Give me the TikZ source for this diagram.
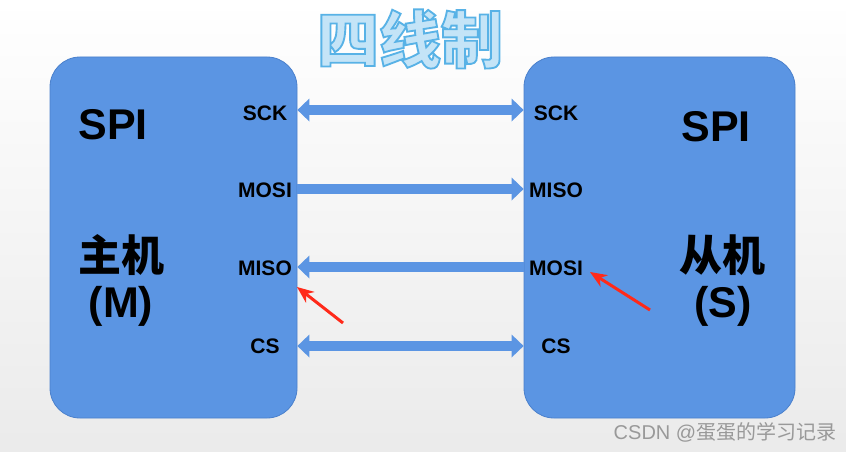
\documentclass[tikz,border=0pt]{standalone}
\usepackage{fontspec}
\setmainfont{Liberation Sans}
\newfontfamily\cjk{Noto Sans CJK SC}
\newfontfamily\cjkfat[FakeBold=3]{Noto Sans CJK SC}
\usetikzlibrary{arrows.meta,positioning}
\definecolor{boxblue}{HTML}{5B95E3}
\definecolor{boxedge}{HTML}{4A80CC}
\definecolor{titlefill}{HTML}{C4E4F7}
\definecolor{titleedge}{HTML}{58B2E6}
\definecolor{markred}{HTML}{FF2A1A}
\tikzset{
    board/.style={rounded corners=30pt,fill=boxblue,draw=boxedge,line width=0.8pt,minimum height=361pt},
    pin/.style={font=\bfseries\fontsize{21}{21}\selectfont,inner sep=0pt},
    big/.style={font=\bfseries\fontsize{43}{43}\selectfont,inner sep=0pt},
    bigcn/.style={font=\cjk\bfseries\fontsize{43}{43}\selectfont,inner sep=0pt},
    headline/.style={font=\cjkfat\bfseries\fontsize{62}{62}\selectfont,inner sep=0pt},
    bus/.style={line width=10pt,draw=boxblue},
    one/.style={bus,-{Triangle[length=12pt,width=23pt,line width=0pt]}},
    two/.style={bus,{Triangle[length=12pt,width=23pt,line width=0pt]}-{Triangle[length=12pt,width=23pt,line width=0pt]}},
    pointer/.style={draw=markred,line width=3pt,-{Stealth[length=17pt,width=14pt,line width=0pt]}}
}

\begin{document}
\begin{tikzpicture}[x=1pt,y=-1pt]

    \shade[top color=white,bottom color=black!8] (0,0) rectangle (846,452);
    \useasboundingbox (0,0) rectangle (846,452);

    % title, outlined via stroke colour
    \node[headline,text=titlefill] (title) at (410,39)
        {\special{pdf:literal direct 0.345 0.698 0.902 RG}四线制};

    % boards
    \node[board,minimum width=247pt] (master) at (173.5,237.5) {};
    \node[board,minimum width=271pt] (slave)  at (659.5,237.5) {};

    \node[big]   (spiM)  at (113,125) {SPI};
    \node[bigcn] (nameM) at (121,255) {主机};
    \node[big]   (tagM)  at (121,306) {(M)};

    \node[big]   (spiS)  at (716,127) {SPI};
    \node[bigcn] (nameS) at (722,255) {从机};
    \node[big]   (tagS)  at (723,306) {(S)};

    % pins
    \node[pin] (sckL)  at (265,113) {SCK};
    \node[pin] (mosiL) at (265,190) {MOSI};
    \node[pin] (misoL) at (265,268) {MISO};
    \node[pin] (csL)   at (265,346) {CS};

    \node[pin] (sckR)  at (556,113) {SCK};
    \node[pin] (misoR) at (556,190) {MISO};
    \node[pin] (mosiR) at (556,268) {MOSI};
    \node[pin] (csR)   at (556,346) {CS};

    % wires
    \draw[two] ([yshift=3pt]master.east |- sckL) -- ([yshift=3pt]slave.west |- sckR);
    \draw[one] ([yshift=1pt]master.east |- mosiL) -- ([yshift=1pt]slave.west |- misoR);
    \draw[one] ([yshift=1pt]slave.west |- mosiR) -- ([yshift=1pt]master.east |- misoL);
    \draw[two] (master.east |- csL) -- (slave.west |- csR);

    % red marks
    \coordinate (tailL) at (343,323);
    \coordinate (tipL)  at (297,287);
    \coordinate (tailR) at (650,310);
    \coordinate (tipR)  at (590,272);
    \draw[pointer] (tailL) -- (tipL);
    \draw[pointer] (tailR) -- (tipR);

    \node[font=\fontsize{20}{20}\selectfont,text=black!40,inner sep=0pt] (mark) at (725,432) {CSDN @{\cjk 蛋蛋的学习记录}};

\end{tikzpicture}
\end{document}
